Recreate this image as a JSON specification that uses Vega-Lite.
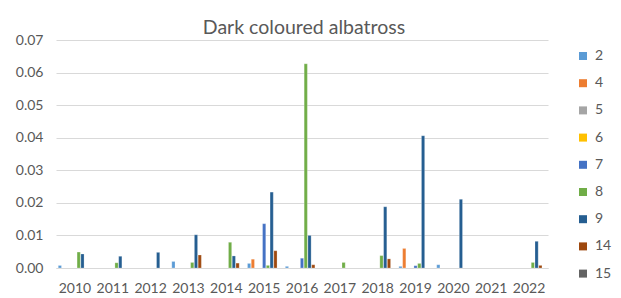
{
  "$schema": "https://vega.github.io/schema/vega-lite/v6.json",
  "width": 492,
  "height": 228,
  "autosize": {"type": "none"},
  "padding": {"left": 56, "top": 40, "right": 73, "bottom": 30},
  "background": "white",
  "title": {
    "text": "Dark coloured albatross",
    "font": "Lato",
    "fontSize": 19.5,
    "fontWeight": "normal",
    "color": "#595959",
    "anchor": "middle",
    "dx": 2,
    "offset": -5
  },
  "data": {
    "values": [
      {"year": "2010", "series": "2", "value": 0.0008},
      {"year": "2010", "series": "8", "value": 0.0049},
      {"year": "2010", "series": "9", "value": 0.0043},
      {"year": "2011", "series": "8", "value": 0.0016},
      {"year": "2011", "series": "9", "value": 0.0036},
      {"year": "2012", "series": "9", "value": 0.0048},
      {"year": "2013", "series": "2", "value": 0.002},
      {"year": "2013", "series": "8", "value": 0.0017},
      {"year": "2013", "series": "9", "value": 0.0102},
      {"year": "2013", "series": "14", "value": 0.004},
      {"year": "2014", "series": "8", "value": 0.0079},
      {"year": "2014", "series": "9", "value": 0.0037},
      {"year": "2014", "series": "14", "value": 0.0015},
      {"year": "2015", "series": "2", "value": 0.0014},
      {"year": "2015", "series": "4", "value": 0.0027},
      {"year": "2015", "series": "7", "value": 0.0136},
      {"year": "2015", "series": "8", "value": 0.0008},
      {"year": "2015", "series": "9", "value": 0.0233},
      {"year": "2015", "series": "14", "value": 0.0053},
      {"year": "2016", "series": "2", "value": 0.0005},
      {"year": "2016", "series": "7", "value": 0.003},
      {"year": "2016", "series": "8", "value": 0.0627},
      {"year": "2016", "series": "9", "value": 0.01},
      {"year": "2016", "series": "14", "value": 0.001},
      {"year": "2017", "series": "8", "value": 0.0017},
      {"year": "2018", "series": "8", "value": 0.0038},
      {"year": "2018", "series": "9", "value": 0.0188},
      {"year": "2018", "series": "14", "value": 0.0028},
      {"year": "2019", "series": "2", "value": 0.0005},
      {"year": "2019", "series": "4", "value": 0.006},
      {"year": "2019", "series": "7", "value": 0.0007},
      {"year": "2019", "series": "8", "value": 0.0014},
      {"year": "2019", "series": "9", "value": 0.0406},
      {"year": "2020", "series": "2", "value": 0.001},
      {"year": "2020", "series": "9", "value": 0.0211},
      {"year": "2022", "series": "8", "value": 0.0017},
      {"year": "2022", "series": "9", "value": 0.0082},
      {"year": "2022", "series": "14", "value": 0.0008}
    ]
  },
  "mark": {"type": "bar", "stroke": "white", "strokeWidth": 0.4, "strokeOpacity": 0.6},
  "encoding": {
    "x": {
      "field": "year",
      "type": "ordinal",
      "scale": {
        "domain": ["2010","2011","2012","2013","2014","2015","2016","2017","2018","2019","2020","2021","2022"],
        "paddingInner": 0.12,
        "paddingOuter": 0.06
      },
      "axis": {
        "title": null,
        "labelAngle": 0,
        "ticks": false,
        "grid": false,
        "domainColor": "#D9D9D9",
        "domainWidth": 1,
        "labelFont": "Lato",
        "labelFontSize": 14,
        "labelColor": "#595959",
        "labelPadding": 13
      }
    },
    "xOffset": {
      "field": "series",
      "type": "nominal",
      "scale": {
        "domain": ["2","4","5","6","7","8","9","14","15"],
        "paddingInner": 0.15,
        "paddingOuter": 0
      }
    },
    "y": {
      "field": "value",
      "type": "quantitative",
      "scale": {"domain": [0, 0.07], "nice": false},
      "axis": {
        "title": null,
        "values": [0, 0.01, 0.02, 0.03, 0.04, 0.05, 0.06, 0.07],
        "format": ".2f",
        "domain": false,
        "ticks": false,
        "gridColor": "#D9D9D9",
        "gridWidth": 1,
        "labelFont": "Lato",
        "labelFontSize": 14,
        "labelColor": "#595959",
        "labelPadding": 13,
        "labelAlign": "right"
      }
    },
    "color": {
      "field": "series",
      "type": "nominal",
      "scale": {
        "domain": ["2","4","5","6","7","8","9","14","15"],
        "range": ["#5B9BD5","#ED7D31","#A5A5A5","#FFC000","#4472C4","#70AD47","#255E91","#9E480E","#636363"]
      },
      "legend": {
        "title": null,
        "orient": "none",
        "legendX": 520,
        "legendY": 9,
        "symbolType": "square",
        "symbolSize": 64,
        "symbolStrokeWidth": 0,
        "labelFont": "Lato",
        "labelFontSize": 14,
        "labelColor": "#595959",
        "labelOffset": 5,
        "rowPadding": 13.2
      }
    }
  },
  "config": {
    "view": {"stroke": null}
  }
}
